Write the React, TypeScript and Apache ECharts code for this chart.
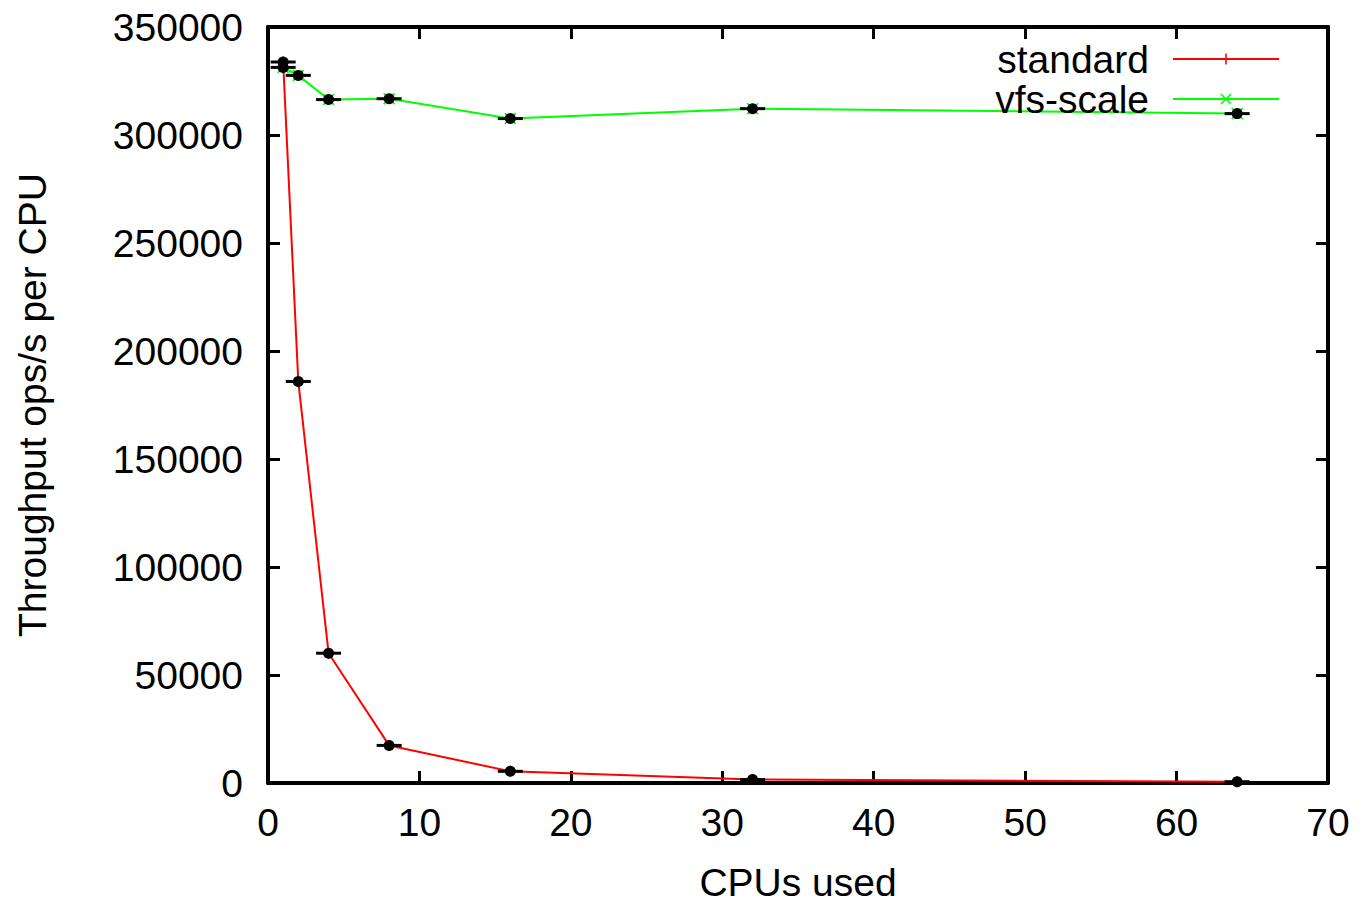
import React, { useEffect, useRef } from "react";
import * as echarts from "echarts";

const cpus = [1, 2, 4, 8, 16, 32, 64];
const standard = [333800, 185900, 60100, 17400, 5400, 1600, 600];
const vfsScale = [331300, 327600, 316400, 316800, 307600, 312200, 309900];
const xTicks = { min: 0, max: 70, interval: 10 };
const yTicks = { min: 0, max: 350000, interval: 50000 };

const FONT = "'Liberation Sans', Arial, Helvetica, sans-serif";
const PLUS = "path://M4.3,0h1.4v4.3h4.3v1.4h-4.3v4.3h-1.4v-4.3h-4.3v-1.4h4.3z";
const CROSS = "path://M0,1L1,0L5,4L9,0L10,1L6,5L10,9L9,10L5,6L1,10L0,9L4,5z";

export default function App() {
  const ref = useRef<HTMLDivElement>(null);
  useEffect(() => {
    if (!ref.current) return;
    const chart = echarts.init(ref.current, undefined, { renderer: "svg" });
    const pts = (ys: number[]) => cpus.map((c, i) => [c, ys[i]]);
    const allPts = [...pts(standard), ...pts(vfsScale)];
    const axisLine = { show: true, onZero: false, lineStyle: { color: "#000", width: 4 } };
    const axisTick = { show: true, inside: true, length: 12, lineStyle: { color: "#000", width: 3 } };
    const label = { fontSize: 39, fontFamily: FONT, color: "#000" };
    chart.setOption({
      animation: false,
      backgroundColor: "#fff",
      grid: {
        left: 268,
        right: 36,
        top: 27,
        bottom: 122,
        containLabel: false,
        outerBoundsMode: "none",
      },
      legend: {
        data: ["standard", "vfs-scale"],
        orient: "vertical",
        align: "right",
        right: 84,
        top: 39,
        padding: 0,
        itemWidth: 106,
        itemHeight: 14,
        itemGap: 0,
        selectedMode: false,
        lineStyle: { width: 2 },
        textStyle: { fontSize: 39, fontFamily: FONT, color: "#000", lineHeight: 40, padding: [0, 19, 0, 0] },
      },
      xAxis: [
        {
          type: "value",
          ...xTicks,
          position: "bottom",
          name: "CPUs used",
          nameLocation: "middle",
          nameGap: 80,
          nameTextStyle: label,
          axisLine,
          axisTick,
          splitLine: { show: false },
          axisLabel: { ...label, margin: 20, formatter: (v: number) => String(v) },
        },
        {
          type: "value",
          ...xTicks,
          position: "top",
          axisLine,
          axisTick,
          splitLine: { show: false },
          axisLabel: { show: false },
        },
      ],
      yAxis: [
        {
          type: "value",
          ...yTicks,
          position: "left",
          name: "Throughput ops/s per CPU",
          nameLocation: "middle",
          nameGap: 216,
          nameTextStyle: label,
          axisLine,
          axisTick,
          splitLine: { show: false },
          axisLabel: { ...label, margin: 25, formatter: (v: number) => String(v) },
        },
        {
          type: "value",
          ...yTicks,
          position: "right",
          axisLine,
          axisTick,
          splitLine: { show: false },
          axisLabel: { show: false },
        },
      ],
      series: [
        {
          name: "standard",
          type: "line",
          data: pts(standard),
          symbol: PLUS,
          symbolSize: 11,
          showSymbol: true,
          lineStyle: { color: "#ff0000", width: 2 },
          itemStyle: { color: "#ff0000", borderWidth: 0 },
        },
        {
          name: "vfs-scale",
          type: "line",
          data: pts(vfsScale),
          symbol: CROSS,
          symbolSize: 12,
          showSymbol: true,
          lineStyle: { color: "#00ff00", width: 2 },
          itemStyle: { color: "#00ff00", borderWidth: 0 },
        },
        {
          name: "bars",
          type: "scatter",
          data: allPts,
          symbol: "rect",
          symbolSize: [25, 3],
          itemStyle: { color: "#000", opacity: 1 },
          z: 3,
        },
        {
          name: "dots",
          type: "scatter",
          data: allPts,
          symbol: "circle",
          symbolSize: 11,
          itemStyle: { color: "#000", opacity: 1 },
          z: 4,
        },
      ],
    });
    return () => chart.dispose();
  }, []);
  return (
    <div
      ref={ref}
      style={{ position: "absolute", left: 0, top: 0, width: 1364, height: 905 }}
    />
  );
}
